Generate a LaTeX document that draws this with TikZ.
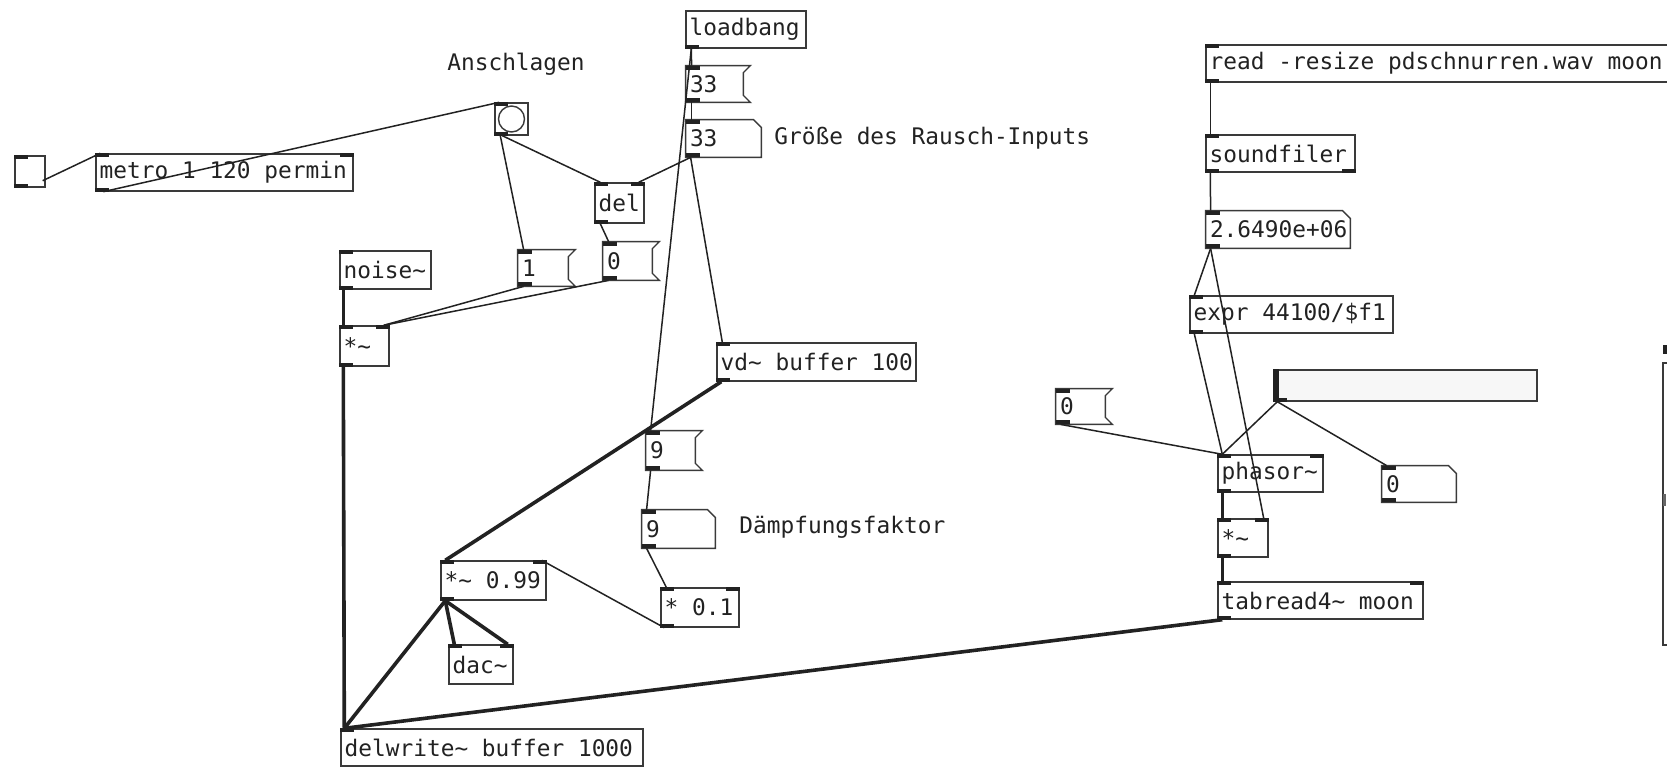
\documentclass[tikz,border=0pt]{standalone}
\usepackage{fontspec}
\newfontfamily\pdfont{DejaVu Sans Mono}
\usetikzlibrary{fit,calc}
\definecolor{ink}{HTML}{222222}
\definecolor{boxc}{HTML}{3a3a3a}
\tikzset{
 pdtxt/.style={font=\pdfont\fontsize{11.4}{13}\selectfont, text=ink, inner sep=0pt, anchor=west},
 pdbox/.style={inner sep=0pt, draw=boxc, line width=0.7pt},
 ghost/.style={inner sep=0pt},
 boxline/.style={draw=boxc, line width=0.7pt},
 ctl/.style={draw=ink, line width=0.75pt},
 sig/.style={draw=ink, line width=1.8pt},
 port/.style={fill=ink},
}
\newcommand\pdobj[6]{\node[pdbox, fit={(#2,#3)(#4,#5)}] (#1) {};
  \node[pdtxt] at ([xshift=2pt]#1.west) {#6};}
\newcommand\pdmsg[6]{\node[ghost, fit={(#2,#3)(#4,#5)}] (#1) {};
  \draw[boxline] (#1.north west) -- (#1.north east) -- ++(-7,7) -- ($(#1.south east)+(-7,-7)$) -- (#1.south east) -- (#1.south west) -- cycle;
  \node[pdtxt] at ([xshift=2pt]#1.west) {#6};}
\newcommand\pdnum[6]{\node[ghost, fit={(#2,#3)(#4,#5)}] (#1) {};
  \draw[boxline] (#1.north west) -- ($(#1.north east)+(-8,0)$) -- ($(#1.north east)+(0,8)$) -- (#1.south east) -- (#1.south west) -- cycle;
  \node[pdtxt] at ([xshift=2pt]#1.west) {#6};}
\newcommand\pdinL[1]{\fill[port] (#1.north west) rectangle ++(14,4);}
\newcommand\pdinR[1]{\fill[port] (#1.north east) rectangle ++(-14,4);}
\newcommand\pdoutL[1]{\fill[port] (#1.south west) rectangle ++(14,-4);}
\newcommand\pdoutR[1]{\fill[port] (#1.south east) rectangle ++(-14,-4);}
\begin{document}
\begin{tikzpicture}[x=0.5pt,y=-0.5pt]
\clip (0,0) rectangle (1667,770);
\fill[white] (0,0) rectangle (1667,770);

% ---------- left part ----------
\node[pdbox, fit={(15,156)(45,187)}] (tgl) {};
\pdinL{tgl}\pdoutL{tgl}
\pdobj{metro}{96}{154}{353}{191}{metro 1 120 permin}
\pdinL{metro}\pdinR{metro}\pdoutL{metro}
\node[pdbox, fit={(495,103)(528,135)}] (bng) {};
\draw[boxline] (bng.center) circle (13);
\pdinL{bng}\pdoutL{bng}
\node[pdtxt, anchor=center] (lab1) at (516,64) {Anschlagen};

\pdobj{loadbang}{686}{11}{806}{48}{loadbang}
\pdoutL{loadbang}
\pdmsg{msgA}{686}{66}{750}{102}{33}
\pdinL{msgA}\pdoutL{msgA}
\pdnum{numA}{686}{120}{761}{157}{33}
\pdinL{numA}\pdoutL{numA}
\node[pdtxt] (lab2) at (774,138) {Größe des Rausch-Inputs};

\pdobj{del}{595}{183}{644}{223}{del}
\pdinL{del}\pdinR{del}\pdoutL{del}
\pdmsg{msgOne}{518}{250}{575}{286}{1}
\pdinL{msgOne}\pdoutL{msgOne}
\pdmsg{msgZero}{603}{242}{659}{280}{0}
\pdinL{msgZero}\pdoutL{msgZero}
\pdobj{noise}{340}{251}{431}{289}{noise\textasciitilde}
\pdinL{noise}\pdoutL{noise}
\pdobj{mulL}{340}{326}{389}{366}{*\textasciitilde}
\pdinL{mulL}\pdinR{mulL}\pdoutL{mulL}
\pdobj{vd}{717}{343}{916}{381}{vd\textasciitilde{} buffer 100}
\pdinL{vd}\pdoutL{vd}
\pdmsg{msgNine}{646}{431}{702}{470}{9}
\pdinL{msgNine}\pdoutL{msgNine}
\pdnum{numNine}{642}{510}{715}{548}{9}
\pdinL{numNine}\pdoutL{numNine}
\node[pdtxt] (lab3) at (739,527) {Dämpfungsfaktor};
\pdobj{mulfb}{441}{561}{546}{600}{*\textasciitilde{} 0.99}
\pdinL{mulfb}\pdinR{mulfb}\pdoutL{mulfb}
\pdobj{mulc}{661}{588}{739}{627}{* 0.1}
\pdinL{mulc}\pdinR{mulc}\pdoutL{mulc}
\pdobj{dac}{449}{645}{513}{684}{dac\textasciitilde}
\pdinL{dac}\pdinR{dac}
\pdobj{delw}{341}{729}{643}{766}{delwrite\textasciitilde{} buffer 1000}
\pdinL{delw}

% ---------- right part ----------
\pdobj{read}{1206}{45}{1700}{82}{read -resize pdschnurren.wav moon}
\pdinL{read}\pdoutL{read}
\pdobj{sf}{1206}{135}{1355}{172}{soundfiler}
\pdinL{sf}\pdoutL{sf}\pdoutR{sf}
\pdnum{numLen}{1206}{211}{1350}{248}{2.6490e+06}
\pdinL{numLen}\pdoutL{numLen}
\pdobj{expr}{1190}{296}{1393}{333}{expr 44100/\$f1}
\pdinL{expr}\pdoutL{expr}
\node[pdbox, fill=black!3, fit={(1274,370)(1537,401)}] (hsl) {};
\fill[port] (hsl.north west) rectangle ++(6,31);
\pdoutL{hsl}
\pdmsg{msgZeroR}{1056}{389}{1112}{424}{0}
\pdinL{msgZeroR}\pdoutL{msgZeroR}
\pdobj{phasor}{1218}{455}{1323}{492}{phasor\textasciitilde}
\pdinL{phasor}\pdinR{phasor}\pdoutL{phasor}
\pdnum{numOut}{1382}{466}{1456}{502}{0}
\pdinL{numOut}\pdoutL{numOut}
\pdobj{mulR}{1218}{519}{1268}{557}{*\textasciitilde}
\pdinL{mulR}\pdinR{mulR}\pdoutL{mulR}
\pdobj{tab}{1218}{582}{1423}{619}{tabread4\textasciitilde{} moon}
\pdinL{tab}\pdinR{tab}\pdoutL{tab}

% partially visible object at the right edge
\node[pdbox, fit={(1663,363)(1700,645)}] (edge) {};
\fill[port] (1663,345) rectangle (1668,354);
\fill[black!60] (1663,494) rectangle (1666,506);

% ---------- control connections ----------
\draw[ctl] ($(tgl.south east)+(-3,-7)$) -- ($(metro.north west)+(5,0)$);
\draw[ctl] ($(metro.south west)+(8,0)$) -- ($(bng.north west)+(5,0)$);
\draw[ctl] ($(bng.south west)+(6,0)$) -- ($(msgOne.north west)+(6,0)$);
\draw[ctl] ($(bng.south west)+(8,0)$) -- ($(del.north west)+(6,0)$);
\draw[ctl] ($(numA.south west)+(5,0)$) -- ($(del.north east)+(-6,0)$);
\draw[ctl] ($(del.south west)+(6,0)$) -- ($(msgZero.north west)+(6,0)$);
\draw[ctl] ($(msgOne.south west)+(6,0)$) -- ($(mulL.north east)+(-6,0)$);
\draw[ctl] ($(msgZero.south west)+(6,0)$) -- ($(mulL.north east)+(-6,0)$);
\draw[ctl] ($(loadbang.south west)+(6,0)$) -- ($(msgA.north west)+(6,0)$);
\draw[ctl] ($(loadbang.south west)+(6,0)$) -- ($(msgNine.north west)+(5,0)$);
\draw[ctl] ($(msgA.south west)+(6,0)$) -- ($(numA.north west)+(6,0)$);
\draw[ctl] ($(numA.south west)+(5,0)$) -- ($(vd.north west)+(6,0)$);
\draw[ctl] ($(msgNine.south west)+(5,0)$) -- ($(numNine.north west)+(5,0)$);
\draw[ctl] ($(numNine.south west)+(5,0)$) -- ($(mulc.north west)+(6,0)$);
\draw[ctl] ($(mulc.south west)+(4,0)$) -- ($(mulfb.north east)+(-5,0)$);

\draw[ctl] ($(read.south west)+(5,0)$) -- ($(sf.north west)+(5,0)$);
\draw[ctl] ($(sf.south west)+(5,0)$) -- ($(numLen.north west)+(5,0)$);
\draw[ctl] ($(numLen.south west)+(5,0)$) -- ($(expr.north west)+(5,0)$);
\draw[ctl] ($(numLen.south west)+(5,0)$) -- ($(mulR.north east)+(-5,0)$);
\draw[ctl] ($(expr.south west)+(5,0)$) -- ($(phasor.north west)+(5,0)$);
\draw[ctl] ($(msgZeroR.south west)+(5,0)$) -- ($(phasor.north west)+(5,0)$);
\draw[ctl] ($(hsl.south west)+(4,0)$) -- ($(phasor.north west)+(5,0)$);
\draw[ctl] ($(hsl.south west)+(4,0)$) -- ($(numOut.north west)+(5,0)$);

% ---------- signal connections ----------
\draw[sig] ($(noise.south west)+(4,0)$) -- ($(mulL.north west)+(4,0)$);
\draw[sig] ($(mulL.south west)+(4,0)$) -- ($(delw.north west)+(4,0)$);
\draw[sig] ($(vd.south west)+(5,0)$) -- ($(mulfb.north west)+(5,0)$);
\draw[sig] ($(mulfb.south west)+(5,0)$) -- ($(dac.north west)+(6,0)$);
\draw[sig] ($(mulfb.south west)+(5,0)$) -- ($(dac.north east)+(-6,0)$);
\draw[sig] ($(mulfb.south west)+(5,0)$) -- ($(delw.north west)+(4,0)$);
\draw[sig] ($(tab.south west)+(5,0)$) -- ($(delw.north west)+(4,0)$);
\draw[sig] ($(phasor.south west)+(5,0)$) -- ($(mulR.north west)+(5,0)$);
\draw[sig] ($(mulR.south west)+(5,0)$) -- ($(tab.north west)+(5,0)$);
\end{tikzpicture}
\end{document}
